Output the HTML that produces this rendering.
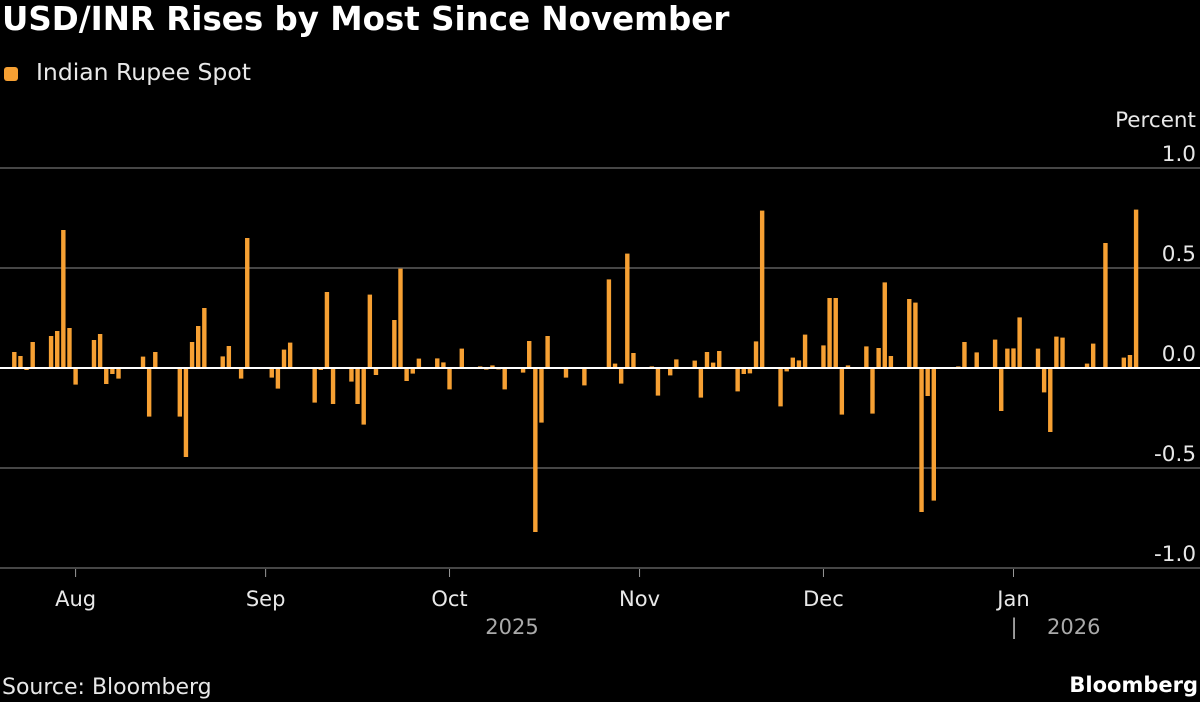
<!DOCTYPE html>
<html><head><meta charset="utf-8"><style>
html,body{margin:0;padding:0;background:#000;}
body{width:1200px;height:702px;position:relative;overflow:hidden;font-family:"DejaVu Sans","Liberation Sans",sans-serif;color:#fff;}
.t{position:absolute;white-space:nowrap;}
</style></head><body>
<div class="t" style="left:2px;top:0px;font-size:32.5px;font-weight:bold;">USD/INR Rises by Most Since November</div>
<div style="position:absolute;left:4px;top:66px;">
  <div style="position:absolute;left:0;top:1px;width:14px;height:14px;background:#f6a033;border-radius:3px;"></div>
  <div class="t" style="left:32px;top:-8px;font-size:23.5px;color:#e8e8e8;">Indian Rupee Spot</div>
</div>
<div class="t" style="left:2px;top:675px;font-size:22px;color:#e8e8e8;">Source: Bloomberg</div>
<div class="t" style="right:2px;top:673px;font-size:21px;font-weight:bold;">Bloomberg</div>
<svg id="chart" width="1200" height="702" style="position:absolute;left:0;top:0;" font-family="DejaVu Sans, Liberation Sans, sans-serif"></svg>
<script>
const dayOffsets=[-10,-9,-8,-7,-4,-3,-2,-1,0,3,4,5,6,7,10,11,12,13,17,18,19,20,21,24,25,27,28,31,32,33,34,35,39,40,41,42,45,46,47,48,49,52,53,54,55,56,59,60,61,63,66,67,68,69,70,73,74,75,76,77,80,83,87,88,89,90,91,94,95,97,98,101,102,103,104,105,108,109,110,111,112,115,116,117,118,119,122,123,124,125,126,129,130,131,132,133,136,137,138,139,140,144,145,147,150,151,152,153,154,157,158,159,160,161,165,166,168,171,172,173];
const values=[0.08,0.06,-0.01,0.13,0.16,0.185,0.69,0.2,-0.083,0.14,0.17,-0.08,-0.03,-0.053,-0.005,0.057,-0.243,0.08,-0.243,-0.445,0.13,0.21,0.30,0.058,0.11,-0.053,0.65,-0.005,-0.048,-0.103,0.092,0.127,-0.173,-0.01,0.38,-0.18,-0.068,-0.18,-0.283,0.367,-0.035,0.24,0.497,-0.065,-0.028,0.047,0.048,0.028,-0.107,0.097,0.008,-0.008,0.013,-0.007,-0.107,-0.023,0.135,-0.82,-0.273,0.16,-0.048,-0.087,0.443,0.022,-0.078,0.572,0.075,0.008,-0.138,-0.037,0.043,0.037,-0.148,0.08,0.027,0.085,-0.117,-0.03,-0.027,0.133,0.787,-0.192,-0.017,0.052,0.038,0.167,0.113,0.35,0.35,-0.233,0.013,0.108,-0.228,0.1,0.428,0.06,0.345,0.327,-0.72,-0.14,-0.663,0.008,0.13,0.078,0.142,-0.215,0.097,0.098,0.253,0.097,-0.122,-0.32,0.157,0.152,0.022,0.122,0.625,0.052,0.065,0.792];
const yTicks=[1.0,0.5,0.0,-0.5,-1.0];
const yTickLabels=["1.0","0.5","0.0","-0.5","-1.0"];
const monthOffsets=[0,31,61,92,122,153];
const monthLabels=["Aug","Sep","Oct","Nov","Dec","Jan"];
const NS="http://www.w3.org/2000/svg";
const svg=document.getElementById('chart');
const x=d=>75.6+d*6.13;
const y=v=>368-v*200;
function mk(tag,attrs){const e=document.createElementNS(NS,tag);for(const k in attrs)e.setAttribute(k,attrs[k]);svg.appendChild(e);return e;}
yTicks.forEach((v,i)=>{
  if(v!==0){const g=mk('line',{x1:0,x2:1200,y1:y(v),y2:y(v),stroke:'#5e5e5e','stroke-width':1.5});
  
  }
  const t=mk('text',{x:1196,y:y(v)-7,'text-anchor':'end','font-size':21.5,fill:'#e8e8e8'});
  t.textContent=yTickLabels[i];
  
  
});
const pt=mk('text',{x:1196,y:127,'text-anchor':'end','font-size':21.5,fill:'#e8e8e8'});
pt.textContent='Percent';


dayOffsets.forEach((d,i)=>{
  const v=values[i];
  const r=mk('rect',{x:x(d)-2.2,y:Math.min(y(v),y(0)),width:4.4,height:Math.max(Math.abs(y(v)-y(0)),0.8),fill:'#f6a033'});
  
  
});
const z=mk('line',{x1:0,x2:1200,y1:y(0),y2:y(0),stroke:'#fff','stroke-width':2});


monthOffsets.forEach((d,i)=>{
  const tk=mk('line',{x1:x(d),x2:x(d),y1:569,y2:577,stroke:'#999','stroke-width':1});
  
  
  const t=mk('text',{x:x(d),y:606,'text-anchor':'middle','font-size':21,fill:'#e8e8e8'});
  t.textContent=monthLabels[i];
  
  
});
const y1=mk('text',{x:512,y:634,'text-anchor':'middle','font-size':21,fill:'#aaa'});
y1.textContent='2025';


const sep=mk('text',{x:1014,y:634,'text-anchor':'middle','font-size':21,fill:'#aaa'});
sep.textContent='|';


const y2=mk('text',{x:1047,y:634,'font-size':21,fill:'#aaa'});
y2.textContent='2026';


</script>
</body></html>
